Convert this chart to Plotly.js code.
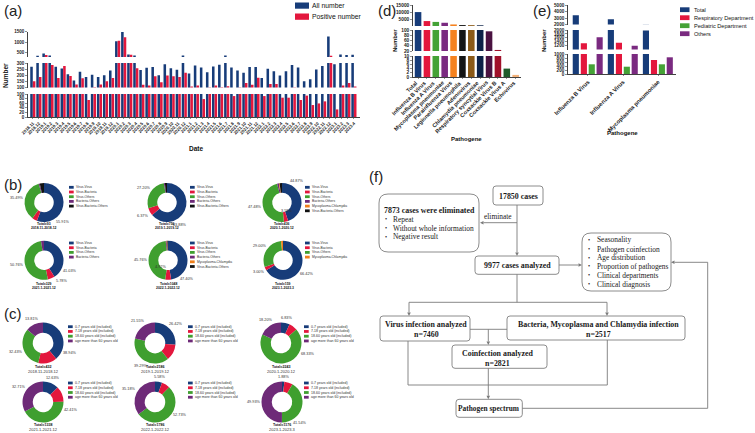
<!DOCTYPE html>
<html><head><meta charset="utf-8">
<script src="https://cdn.plot.ly/plotly-3.0.1.min.js"></script>
<style>html,body{margin:0;padding:0;background:#fff;} #chart{width:755px;height:433px;}</style>
</head><body><div id="chart"></div>
<script>
// ---------------- DATA ----------------
const dates = ["2018.11","2018.12","2019.1","2019.2","2019.3","2019.4","2019.5","2019.6","2019.7","2019.8","2019.9","2019.10","2019.11","2019.12",
"2020.1","2020.2","2020.3","2020.4","2020.5","2020.6","2020.7","2020.8","2020.9","2020.10","2020.11","2020.12",
"2021.1","2021.2","2021.3","2021.4","2021.5","2021.6","2021.7","2021.8","2021.9","2021.10","2021.11","2021.12",
"2022.1","2022.2","2022.3","2022.4","2022.5","2022.6","2022.7","2022.8","2022.9","2022.10","2022.11","2022.12",
"2023.1","2023.2","2023.3","2023.4"];
const allNumber = [270,360,470,370,269,255,208,158,228,186,205,186,200,239,1050,1500,420,370,242,261,267,200,289,258,244,370,
214,280,264,225,272,286,370,264,239,220,267,267,178,253,233,197,233,283,264,150,167,247,275,1280,289,420,400,410];
const positiveNumber = [150,186,400,283,178,275,194,125,175,74,103,125,150,178,1080,1250,410,258,122,117,192,142,197,192,186,220,
108,117,78,100,117,103,111,91,100,136,122,180,91,128,128,84,84,100,74,93,52,59,68,360,33,117,136,108];

const pathogens = ["Total","Influenza B Virus","Influenza A Virus","Mycoplasma pneumoniae","Parainfluenza Virus","Legionella pneumophila","Adenovirus","Chlamydia pneumoniae","Respiratory syncytial Virus","Coxsackie Virus B","Coxsackie Virus A","Echovirus"];
const pathogenCounts = [9977,3600,3000,2400,1200,750,700,600,95,24,4,1];
const pathogenColors = ["#173c79","#e3173d","#45a236","#7a2a80","#f5821f","#151515","#8b5a17","#0c2147","#4a1241","#a0102a","#1f5c2b","#f3b27a"];

const deptCategories = ["Influenza B Virus","Influenza A Virus","Mycoplasma pneumoniae"];
const deptTotal = [3420,2790,1980];
const deptRespiratory = [1320,1350,700];
const deptPediatric = [485,365,485];
const deptOthers = [1625,1195,835];
const deptNames = ["Total","Respiratory Department","Pediatric Department","Others"];

const coinfLabels = ["Virus-Virus","Virus-Bacteria","Virus-Others","Bacteria-Others","Mycoplasma-Chlamydia","Virus-Bacteria-Others"];
const coinfPeriods = ["2018.11-2018.12","2019.1-2019.12","2020.1-2020.12","2021.1-2021.12","2022.1-2022.12","2023.1-2023.3"];
const coinfTotals = ["Total=93","Total=756","Total=436","Total=329","Total=1048","Total=159"];
const coinfValues = [
  [55.91,4.20,35.49,0.90,0,3.50],
  [63.88,6.37,27.20,0.80,0,1.75],
  [44.87,3.58,47.48,1.50,0.60,1.97],
  [41.03,5.78,50.76,2.43,0,0],
  [47.40,4.92,45.76,0.80,0.60,0.52],
  [66.42,3.00,29.00,0,1.58,0]];
const coinfLegendItems = [[0,1,2,3,5],[0,1,2,3,5],[0,1,2,3,4,5],[0,1,2,3],[0,1,2,3,4,5],[0,1,2,4]];
const coinfShown = [[0,2],[0,1,2],[0,1,2],[0,1,2],[0,1,2],[0,1,2]];

const ageLabels = ["0-7 years old (included)","7-18 years old (included)","18-60 years old (included)","age more than 60 years old"];
const agePeriods = ["2018.11-2018.12","2019.1-2019.12","2020.1-2020.12","2021.1-2021.12","2022.1-2022.12","2023.1-2023.3"];
const ageTotals = ["Total=432","Total=2186","Total=2243","Total=1338","Total=1786","Total=1176"];
const ageValues = [
  [38.94,14.82,32.43,13.81],
  [26.42,12.74,39.29,21.55],
  [6.83,6.64,68.33,18.20],
  [12.63,12.25,42.41,32.71],
  [5.58,6.51,52.73,35.18],
  [1.88,6.65,41.54,49.93]];
const ageShown = [[0,2,3],[0,2,3],[0,2,3],[0,2,3],[0,2,3],[0,2,3]];

// ---------------- STYLE / LAYOUT ----------------
const W = 755, H = 433;
const X = p => p / W, Y = p => 1 - p / H;
const NAVY = "#173c79", RED = "#e3173d", GREEN = "#45a236", PURPLE = "#7a2a80";
const coinfColors = [NAVY, RED, "#3f9f2f", "#6e2a78", "#f07f1a", "#111111"];
const ageColors = [NAVY, RED, "#3f9f2f", "#6e2a78"];
const SANS = "Liberation Sans, Arial, sans-serif";
const SERIF = "Liberation Serif, Times New Roman, serif";

const traces = [];
// (a)
["y","y2","y3"].forEach(ya => {
  traces.push({type:"bar", x:dates, y:allNumber, xaxis:"x", yaxis:ya, marker:{color:NAVY}, width:0.42, offset:-0.43, hoverinfo:"skip"});
  traces.push({type:"bar", x:dates, y:positiveNumber, xaxis:"x", yaxis:ya, marker:{color:RED}, width:0.42, offset:0.0, hoverinfo:"skip"});
});
// (d)
["y4","y5","y6"].forEach(ya => {
  traces.push({type:"bar", x:pathogens, y:pathogenCounts, xaxis:"x2", yaxis:ya, marker:{color:pathogenColors}, width:0.74, offset:-0.37, hoverinfo:"skip"});
});
// (e)
const deptSeries = [[deptTotal,NAVY,-0.435],[deptRespiratory,RED,-0.205],[deptPediatric,GREEN,0.02],[deptOthers,PURPLE,0.245]];
["y7","y8","y9"].forEach(ya => {
  deptSeries.forEach(([vals,col,off]) => traces.push({type:"bar", x:deptCategories, y:vals, xaxis:"x3", yaxis:ya, marker:{color:col}, width:0.175, offset:off, hoverinfo:"skip"}));
});

const shapes = [], ann = [];
function txt(px, py, text, size, o) {
  o = o || {};
  ann.push({xref:"paper", yref:"paper", x:X(px), y:Y(py), text:text, showarrow:false, borderpad:0,
    xanchor:o.xanchor || "center", yanchor:o.yanchor || "middle", textangle:o.angle || 0,
    font:{size:size, family:o.family || SANS, color:o.color || "#111", weight:o.weight || "normal"}});
}
function rect(x0, y0, x1, y1, col) {
  shapes.push({type:"rect", xref:"paper", yref:"paper", x0:X(x0), y0:Y(y1), x1:X(x1), y1:Y(y0), fillcolor:col, line:{width:0}});
}

function pieTrace(labels, values, colors, cx, cy, r) {
  return {type:"pie", labels:labels, values:values, sort:false, direction:"clockwise", rotation:0, hole:0.5,
    marker:{colors:colors, line:{width:0}}, textinfo:"none",
    domain:{x:[X(cx - r), X(cx + r)], y:[Y(cy + r), Y(cy - r)]}, hoverinfo:"skip", showlegend:false};
}
// label placement tweaks (angle in degrees clockwise from 12 o'clock, rad in px)
const pieLabelOverride = {
  "b0-0":{angle:135}, "b1-0":{angle:150}, "b2-0":{angle:35}, "b2-1":{angle:155, rad:9.5},
  "b3-0":{angle:112}, "b3-1":{angle:140}, "b4-0":{angle:135}, "b4-1":{angle:228, rad:9.5},
  "c0-0":{angle:110}, "c2-2":{angle:112}, "c3-2":{angle:106}, "c4-2":{angle:118}, "c5-2":{angle:140}};
function pieLabels(tag, values, shown, cx, cy, r) {
  const total = values.reduce((a,b) => a + b, 0);
  let cum = 0;
  values.forEach((v,i) => {
    const mid = (cum + v / 2) / total * 360; cum += v;
    if (!shown.includes(i)) return;
    const o = pieLabelOverride[tag + "-" + i] || {};
    const ang = (o.angle !== undefined ? o.angle : mid) * Math.PI / 180;
    const s = Math.sin(ang), c = Math.cos(ang);
    const rad = o.rad !== undefined ? o.rad : r + 1.5 + 6.3 * Math.abs(s) + 2.2 * Math.abs(c);
    txt(cx + rad * s, cy - rad * c, v.toFixed(2) + "%", 3.8, {color:"#333"});
  });
}

// pies (b)
const bCenters = [[44,202.5],[167,202.5],[282,202.5],[44,260.3],[168,260.3],[283,260.3]];
const bLegendX = [69,190,305];
coinfValues.forEach((vals,k) => {
  const [cx,cy] = bCenters[k];
  traces.push(pieTrace(coinfLabels, vals, coinfColors, cx, cy, 19.5));
  pieLabels("b" + k, vals, coinfShown[k], cx, cy, 19.5);
  txt(cx, k < 3 ? 224 : 284.3, coinfTotals[k], 3.4, {weight:"bold"});
  txt(cx, k < 3 ? 228.2 : 288.3, coinfPeriods[k], 3.4, {weight:"bold"});
  const lx = bLegendX[k % 3], ly0 = k < 3 ? 187.3 : 243;
  coinfLegendItems[k].forEach((li,j) => {
    const yy = ly0 + j * 4.7;
    rect(lx, yy - 1.4, lx + 4.7, yy + 1.4, coinfColors[li]);
    txt(lx + 6, yy, coinfLabels[li], 3.3, {xanchor:"left", color:"#333"});
  });
});
// pies (c)
const cCenters = [[43,343],[155,343],[281,343],[43,402],[155,402],[282,402]];
const cLegendX = [68,188,304];
ageValues.forEach((vals,k) => {
  const [cx,cy] = cCenters[k];
  traces.push(pieTrace(ageLabels, vals, ageColors, cx, cy, 20.5));
  pieLabels("c" + k, vals, ageShown[k], cx, cy, 20.5);
  txt(cx, k < 3 ? 367.3 : 425, ageTotals[k], 3.6, {weight:"bold"});
  txt(cx, k < 3 ? 371.5 : 429.2, agePeriods[k], 4.0, {color:"#333"});
  const lx = cLegendX[k % 3], ly0 = k < 3 ? 326.7 : 383;
  ageLabels.forEach((lab,j) => {
    const yy = ly0 + j * 4.75;
    rect(lx, yy - 1.4, lx + 4.7, yy + 1.4, ageColors[j]);
    txt(lx + 6, yy, lab, 3.5, {xanchor:"left", color:"#333"});
  });
});

// panel labels
[["(a)",3,11],["(b)",3,184],["(c)",3,313],["(d)",377,10],["(e)",532,10],["(f)",368,176]].forEach(([t,x,y]) => txt(x, y, t, 15, {xanchor:"left", color:"#222"}));

// (a) titles & legend
txt(6, 76, "Number", 6.5, {angle:-90, weight:"bold"});
txt(196, 149, "Date", 6.5, {weight:"bold"});
rect(295, 2.5, 309, 8.7, NAVY); txt(311, 5.6, "All number", 6.8, {xanchor:"left"});
rect(295, 13.5, 309, 19.8, RED); txt(311, 16.7, "Positive number", 6.8, {xanchor:"left"});
// (d) titles + category labels (rotated, ending at each tick)
txt(395, 41, "Number", 6, {angle:-90, weight:"bold"});
txt(466.5, 139, "Pathogene", 6, {weight:"bold"});
const dDom = [413,521], dRange = [-0.57,11.6];
pathogens.forEach((p,i) => {
  const px = dDom[0] + (i - dRange[0]) / (dRange[1] - dRange[0]) * (dDom[1] - dDom[0]);
  txt(px + 1.5, 78.5, p, 5.6, {angle:-45, xanchor:"right", yanchor:"top", weight:"bold", color:"#222"});
});
// (e) titles & legend
txt(544, 41, "Number", 6, {angle:-90, weight:"bold"});
txt(622, 132.5, "Pathogene", 6, {weight:"bold"});
[NAVY, RED, GREEN, PURPLE].forEach((c,i) => {
  const yy = 9.7 + i * 8;
  rect(680, yy - 2.4, 689.5, yy + 2.4, c);
  txt(693, yy, deptNames[i], 5.6, {xanchor:"left"});
});

// ---------------- FLOWCHART (f) ----------------
const GB = "#8c8c8c", GL = "#7a7a7a";
function line(x0,y0,x1,y1){ shapes.push({type:"line", xref:"paper", yref:"paper", x0:X(x0), y0:Y(y0), x1:X(x1), y1:Y(y1), line:{color:GL, width:0.9}}); }
function rbox(x0,y0,x1,y1,r){
  const p = `M${X(x0+r)},${Y(y0)} L${X(x1-r)},${Y(y0)} Q${X(x1)},${Y(y0)} ${X(x1)},${Y(y0+r)} L${X(x1)},${Y(y1-r)} Q${X(x1)},${Y(y1)} ${X(x1-r)},${Y(y1)} L${X(x0+r)},${Y(y1)} Q${X(x0)},${Y(y1)} ${X(x0)},${Y(y1-r)} L${X(x0)},${Y(y0+r)} Q${X(x0)},${Y(y0)} ${X(x0+r)},${Y(y0)} Z`;
  shapes.push({type:"path", xref:"paper", yref:"paper", path:p, line:{color:GB, width:1}, fillcolor:"rgba(0,0,0,0)"});
}
function arrow(x,y,dir){
  const L = 3.5, w = 1.8; let pts;
  if (dir === "down") pts = [[x,y],[x-w,y-L],[x+w,y-L]];
  else if (dir === "left") pts = [[x,y],[x+L,y-w],[x+L,y+w]];
  else pts = [[x,y],[x-L,y-w],[x-L,y+w]];
  shapes.push({type:"path", xref:"paper", yref:"paper", path:`M${X(pts[0][0])},${Y(pts[0][1])} L${X(pts[1][0])},${Y(pts[1][1])} L${X(pts[2][0])},${Y(pts[2][1])} Z`, fillcolor:GL, line:{width:0}});
}
const FB = 7.9, FR = 7.4;
const serifB = {family:SERIF, weight:"bold", color:"#1a1a1a"};
const serifR = {family:SERIF, color:"#1a1a1a", xanchor:"left"};
rbox(493,186,543,205,3); txt(518,196,"17850 cases",FB,serifB);
rbox(379,194,479,252,9); txt(429.5,210,"7873 cases were eliminated",FB,serifB);
[["Repeat",219],["Without whole information",228],["Negative result",236.5]].forEach(([t,y]) => { txt(383.5,y,"•",6,serifR); txt(392,y,t,FR,serifR); });
line(517,205,517,252.5); arrow(517,256,"down");
line(517,222.7,483.5,222.7); arrow(480,222.7,"left");
txt(483,216,"eliminate",FR,serifR);
rbox(475,256,559,274.3,3); txt(517,265.5,"9977 cases analyzed",FB,serifB);
line(559,265,578.5,265); arrow(582,265,"right");
rbox(582,233,671,291,9);
[["Seasonality",240],["Pathogen coinfection",249],["Age distribution",257.7],["Proportion of pathogens",266.3],["Clinical departments",275.3],["Clinical diagnosis",284]].forEach(([t,y]) => { txt(587,y,"•",6,serifR); txt(596,y,t,FR,serifR); });
line(517,274.3,517,302.3); line(409,302.3,607,302.3);
line(409,302.3,409,312.5); arrow(409,316,"down");
line(607,302.3,607,312.5); arrow(607,316,"down");
rbox(380,316,470,341,3); txt(426,324,"Virus infection analyzed",FB,serifB); txt(426,334,"n=7460",FB,serifB);
rbox(507,316,685,340,3); txt(598,324.3,"Bacteria, Mycoplasma and Chlamydia infection",FB,serifB); txt(598.5,334,"n=2517",FB,serifB);
line(470,329.3,507,329.3); line(488.3,329.3,488.3,341.5); arrow(488.3,345,"down");
rbox(452,345,547,368.3,3); txt(497,353.7,"Coinfection analyzed",FB,serifB); txt(497,363,"n=2821",FB,serifB);
line(408,341,408,385); line(408,385,607.3,385); line(607.3,385,607.3,340);
line(488.3,368.3,488.3,395.8); arrow(488.3,399.3,"down");
rbox(456,399.3,522.3,417.3,3); txt(489,408.3,"Pathogen spectrum",7.4,serifB);
line(522.3,408.3,707.7,408.3); line(707.7,408.3,707.7,262.3); line(707.7,262.3,674.5,262.3); arrow(671,262.3,"left");

// ---------------- AXES ----------------
function yax(dom, range, vals, anchor, size) {
  return {domain:[Y(dom[0]), Y(dom[1])], range:range, anchor:anchor, tickmode:"array", tickvals:vals, ticktext:vals.map(String),
    showgrid:false, zeroline:false, showline:true, linecolor:"#111", linewidth:0.8, ticks:"outside", ticklen:2, tickwidth:0.6,
    tickfont:{size:size, family:SANS, weight:"bold", color:"#222"}, fixedrange:true};
}
function xax(dom, range, cats, anchor, size, showLabels) {
  return {domain:[X(dom[0]), X(dom[1])], range:range, anchor:anchor, type:"category", tickmode:"array", tickvals:cats, ticktext:cats,
    showticklabels:showLabels, tickangle:-45, showgrid:false, zeroline:false, showline:true, linecolor:"#111", linewidth:0.8, ticks:"outside", ticklen:1.5, tickwidth:0.6,
    tickfont:{size:size, family:SANS, weight:"bold", color:"#222"}, fixedrange:true};
}
const layout = {
  width:W, height:H, margin:{l:0,r:0,t:0,b:0}, paper_bgcolor:"#fff", plot_bgcolor:"rgba(0,0,0,0)", showlegend:false,
  font:{family:SANS, color:"#111"},
  xaxis: xax([28,360], [-0.8,54], dates, "y", 4.3, true),
  yaxis: yax([117,94], [0,100], [0,20,40,60,80,100], "x", 4.5),
  yaxis2: yax([87.5,63], [100,300], [100,150,200,250,300], "x", 4.5),
  yaxis3: yax([57,31.5], [300,1520], [500,1000,1500], "x", 4.5),
  xaxis2: xax(dDom, dRange, pathogens, "y6", 5.6, false),
  yaxis4: yax([26,5], [100,15000], [5000,10000,15000], "x2", 4.8),
  yaxis5: yax([51,30], [20,100], [20,40,60,80,100], "x2", 4.8),
  yaxis6: yax([77,56], [0,10], [0,2,4,6,8,10], "x2", 4.8),
  xaxis3: xax([568,676], [-0.57,2.51], deptCategories, "y9", 5.8, true),
  yaxis7: yax([24.5,5], [2000,5000], [2000,3000,4000,5000], "x3", 4.6),
  yaxis8: yax([49.5,30], [1000,2000], [1200,1400,1600,1800,2000], "x3", 4.6),
  yaxis9: yax([74,54], [0,1000], [0,200,400,600,800,1000], "x3", 4.6),
  shapes:shapes, annotations:ann
};
Plotly.newPlot("chart", traces, layout, {staticPlot:true, displayModeBar:false});
</script></body></html>
